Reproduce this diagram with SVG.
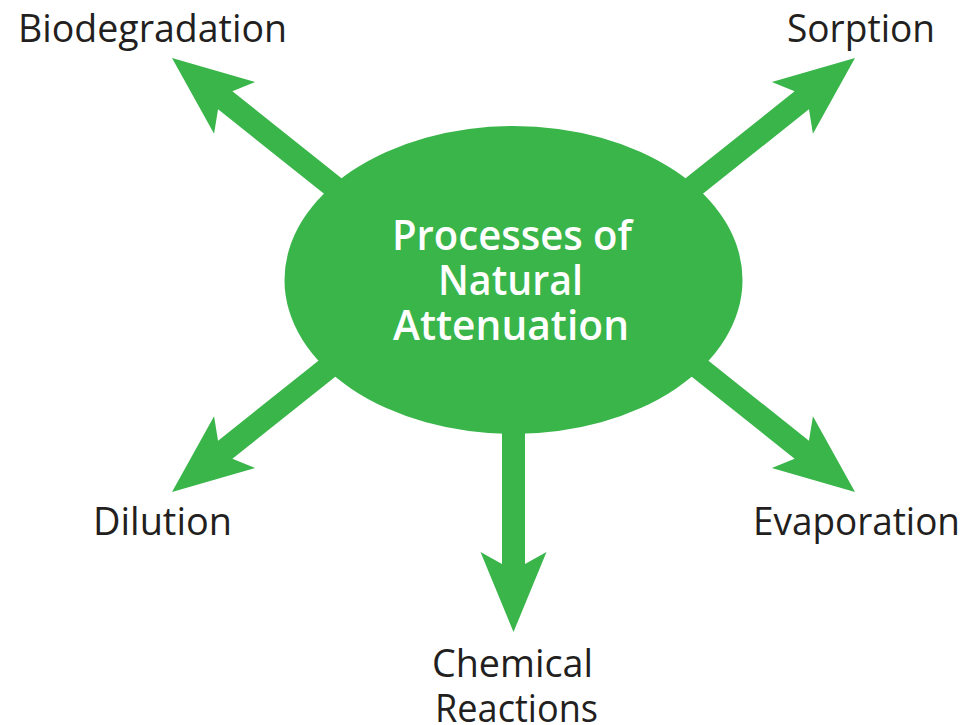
<svg xmlns="http://www.w3.org/2000/svg" width="977" height="725" viewBox="0 0 977 725">
  <style>
    .lbl { font-family: "Open Sans", "Noto Sans", "DejaVu Sans", sans-serif; font-size: 38px; fill: #231f20; }
    .ctr { font-family: "Open Sans", "Noto Sans", "DejaVu Sans", sans-serif; font-size: 42px; font-weight: 600; fill: #ffffff; }
    .arrow { fill: #39b54a; }
  </style>
  <defs>
    <path id="arr" d="M0,0 L-33,-80 L-11.5,-68 L-11.5,-250 L11.5,-250 L11.5,-68 L33,-80 Z"/>
    <path id="arrV" d="M0,0 L-33,-80 L-11.5,-68 L-11.5,-232 L11.5,-232 L11.5,-68 L33,-80 Z"/>
  </defs>
  <rect width="977" height="725" fill="#ffffff"/>
  <g id="connectors" class="arrow">
    <use href="#arr" transform="translate(172,58) rotate(128.5)"/>
    <use href="#arr" transform="translate(855,58) rotate(-128.5)"/>
    <use href="#arr" transform="translate(172,492) rotate(51.5)"/>
    <use href="#arr" transform="translate(855,492) rotate(-51.5)"/>
    <use href="#arrV" transform="translate(513.5,632)"/>
  </g>
  <g id="center">
    <ellipse cx="513.5" cy="280" rx="229" ry="154" fill="#39b54a"/>
    <text class="ctr" x="512" y="250" text-anchor="middle" textLength="240" lengthAdjust="spacingAndGlyphs">Processes of</text>
    <text class="ctr" x="510.5" y="295" text-anchor="middle" textLength="145" lengthAdjust="spacingAndGlyphs">Natural</text>
    <text class="ctr" x="511" y="340" text-anchor="middle" textLength="236" lengthAdjust="spacingAndGlyphs">Attenuation</text>
  </g>
  <g id="biodegradation">
    <text class="lbl" x="18" y="42" textLength="269" lengthAdjust="spacingAndGlyphs">Biodegradation</text>
  </g>
  <g id="sorption">
    <text class="lbl" x="787" y="42" textLength="148" lengthAdjust="spacingAndGlyphs">Sorption</text>
  </g>
  <g id="dilution">
    <text class="lbl" x="93" y="535" textLength="139" lengthAdjust="spacingAndGlyphs">Dilution</text>
  </g>
  <g id="evaporation">
    <text class="lbl" x="753" y="535" textLength="207" lengthAdjust="spacingAndGlyphs">Evaporation</text>
  </g>
  <g id="chemical-reactions">
    <text class="lbl" x="432" y="677" textLength="161" lengthAdjust="spacingAndGlyphs">Chemical</text>
    <text class="lbl" x="435" y="722" textLength="163" lengthAdjust="spacingAndGlyphs">Reactions</text>
  </g>
</svg>
